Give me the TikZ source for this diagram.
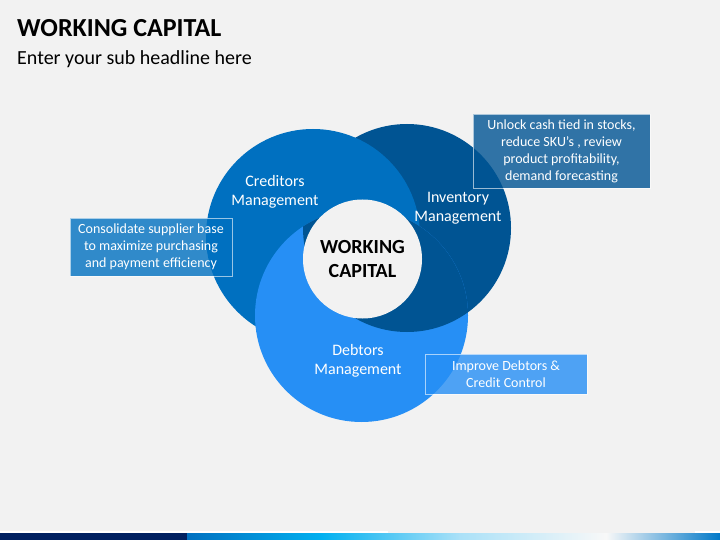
\documentclass[tikz,border=0pt]{standalone}
\usepackage{fontspec}
\setmainfont{Carlito}

\definecolor{credblue}{RGB}{0,112,192}
\definecolor{invblue}{RGB}{0,84,147}
\definecolor{debtblue}{RGB}{38,143,245}
\definecolor{slidegray}{RGB}{242,242,242}
\definecolor{barnavy}{RGB}{0,32,96}
\definecolor{barcyan}{RGB}{0,176,240}
\definecolor{barpale}{RGB}{170,225,248}
\definecolor{barwhite}{RGB}{248,248,248}
\definecolor{barend}{RGB}{0,120,200}

\tikzset{
	bubble/.style={circle, inner sep=0pt, minimum size=#1},
	circtext/.style={text=white, align=center, font=\fontsize{16bp}{19bp}\selectfont},
	notebox/.style={rectangle, draw=white, draw opacity=0.6, line width=0.8bp,
		fill opacity=0.8, text opacity=1, text=white, align=center, inner sep=0pt,
		font=\fontsize{14bp}{17bp}\selectfont},
}

\begin{document}
\begin{tikzpicture}[x=1bp, y=-1bp]
	\fill[slidegray] (0,0) rectangle (720,540);
	\useasboundingbox (0,0) rectangle (720,540);
	% headline
	\node[anchor=base west, inner sep=0pt, font=\fontsize{26bp}{30bp}\selectfont\bfseries] (title) at (17,37) {WORKING CAPITAL};
	\node[anchor=base west, inner sep=0pt, font=\fontsize{20bp}{24bp}\selectfont] (subtitle) at (17,65) {Enter your sub headline here};
	% the three circles, interlocked
		\node[bubble=208bp, fill=invblue] (inv) at (407,228) {};
		\node[bubble=214bp, fill=credblue] (cred) at (313,236) {};
		\node[bubble=213bp, fill=debtblue] (debt) at (361.5,315.5) {};
	\begin{scope}
		\clip (debt.center) circle[radius=106.5bp];
		\fill[invblue] (inv.center) circle[radius=104bp];
	\end{scope}
		\node[bubble=119bp, fill=slidegray] (core) at (362.5,259) {};
	% labels
		\node[circtext] (credlabel) at (275,192) {Creditors\\Management};
		\node[circtext] (invlabel) at (458,208) {Inventory\\Management};
		\node[circtext] (debtlabel) at (358,361) {Debtors\\Management};
		\node[align=center, font=\fontsize{20bp}{24bp}\selectfont\bfseries] (corelabel) at (core) {WORKING\\CAPITAL};
	% notes
		\node[notebox, fill=invblue, minimum width=177bp, minimum height=74bp] (stocknote) at (561.5,151) {Unlock cash tied in stocks,\\reduce SKU’s , review\\product profitability,\\demand forecasting};
		\node[notebox, fill=credblue, minimum width=162bp, minimum height=58bp] (suppliernote) at (151,247) {Consolidate supplier base\\to maximize purchasing\\and payment efficiency};
		\node[notebox, fill=debtblue, minimum width=162bp, minimum height=40bp] (debtnote) at (506,374) {Improve Debtors \&\\Credit Control};
	% footer bar
	\fill[white] (0,531) rectangle (388,533);
	\fill[white] (695,531) rectangle (720,533);
	\fill[barnavy] (0,533) rectangle (187.5,540);
	\shade[left color=credblue, right color=barcyan] (187,533) rectangle (321.5,540);
	\shade[left color=barcyan, right color=barpale] (321,533) rectangle (459.5,540);
	\shade[left color=barpale, right color=barwhite] (459,533) rectangle (606.5,540);
	\shade[left color=barwhite, right color=barend] (606,533) rectangle (720,540);
\end{tikzpicture}
\end{document}
